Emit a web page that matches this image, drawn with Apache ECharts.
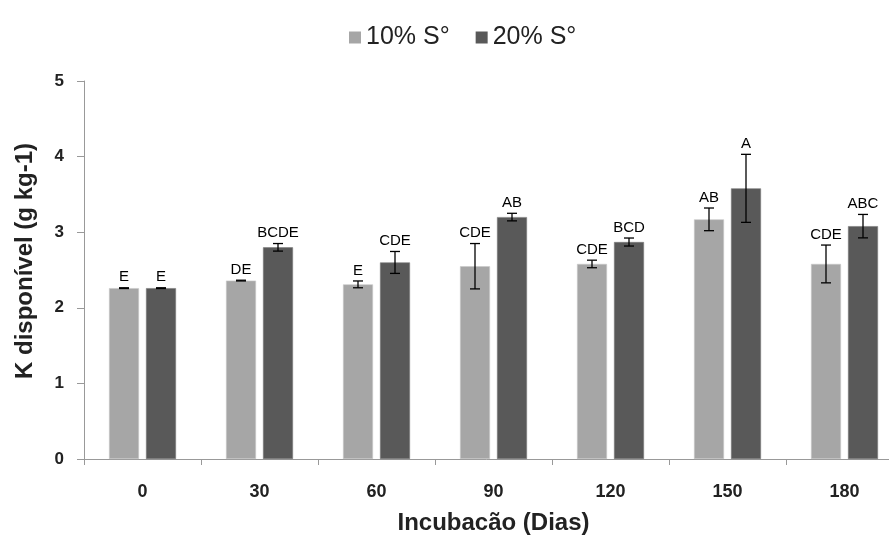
<!DOCTYPE html>
<html>
<head>
  <meta charset="utf-8">
  <style>
    html, body { margin: 0; padding: 0; width: 100%; height: 100%; overflow: hidden; background: #fff; }
  </style>
  <script src="https://cdn.jsdelivr.net/npm/echarts@6/dist/echarts.min.js"></script>
</head>
<body>
  <div id="container" style="width: 889px; height: 535px;"></div>
  <script>
    // dados
    const categories = ['0', '30', '60', '90', '120', '150', '180'];
    const s10 = [2.26, 2.36, 2.31, 2.55, 2.58, 3.17, 2.58];
    const s20 = [2.26, 2.80, 2.60, 3.20, 2.87, 3.58, 3.08];
    const err10 = [0.005, 0.005, 0.045, 0.30, 0.05, 0.15, 0.25];
    const err20 = [0.005, 0.05, 0.145, 0.05, 0.053, 0.45, 0.155];
    const lab10 = ['E', 'DE', 'E', 'CDE', 'CDE', 'AB', 'CDE'];
    const lab20 = ['E', 'BCDE', 'CDE', 'AB', 'BCD', 'A', 'ABC'];
    const yTicks = [0, 1, 2, 3, 4, 5];

    const BAR_W = 30, GAP = 7;
    const font = 'Liberation Sans, Arial, sans-serif';

    function errData(vals, errs, labs) {
      return vals.map((v, i) => [i, v - errs[i], v + errs[i], labs[i]]);
    }

    // barra de erro + letra acima
    function errRender(offset) {
      return function (params, api) {
        const x = api.coord([api.value(0), 0])[0] + offset;
        const lo = api.coord([api.value(0), api.value(1)])[1];
        const hi = api.coord([api.value(0), api.value(2)])[1];
        const cap = 5;
        const st = { stroke: '#000', lineWidth: 1.3 };
        return {
          type: 'group',
          children: [
            { type: 'line', shape: { x1: x, y1: lo, x2: x, y2: hi }, style: st },
            { type: 'line', shape: { x1: x - cap, y1: lo, x2: x + cap, y2: lo }, style: st },
            { type: 'line', shape: { x1: x - cap, y1: hi, x2: x + cap, y2: hi }, style: st },
            {
              type: 'text',
              style: {
                text: api.value(3), x: x, y: hi - 3,
                textAlign: 'center', textVerticalAlign: 'bottom',
                fill: '#000', font: '15px ' + font
              }
            }
          ]
        };
      };
    }

    const myChart = echarts.init(document.getElementById('container'), null, { renderer: 'canvas' });
    const off = (BAR_W + GAP) / 2;

    const option = {
      animation: false,
      color: ['#a6a6a6', '#595959'],
      legend: {
        data: ['10% S°', '20% S°'],
        left: 344,
        top: 20,
        icon: 'rect',
        itemWidth: 12,
        itemHeight: 12,
        itemGap: 26,
        itemStyle: { borderWidth: 0 },
        textStyle: { fontSize: 25, color: '#222', fontFamily: font }
      },
      grid: { left: 84, width: 819, top: 81, bottom: 76, containLabel: false, outerBoundsMode: 'none' },
      xAxis: {
        type: 'category',
        data: categories,
        name: 'Incubacão (Dias)',
        nameLocation: 'middle',
        nameGap: 52,
        nameTextStyle: { fontSize: 24, fontWeight: 'bold', color: '#222', fontFamily: font },
        axisLine: { lineStyle: { color: '#999' } },
        axisTick: { show: true, length: 6, lineStyle: { color: '#999' } },
        axisLabel: { margin: 24, fontSize: 18, fontWeight: 'bold', color: '#222', fontFamily: font }
      },
      yAxis: {
        type: 'value',
        min: yTicks[0],
        max: yTicks[yTicks.length - 1],
        interval: 1,
        name: 'K disponível (g kg-1)',
        nameLocation: 'middle',
        nameGap: 47,
        nameTextStyle: { fontSize: 24, fontWeight: 'bold', color: '#222', fontFamily: font, padding: [0, 0, 0, 18] },
        splitLine: { show: false },
        axisLine: { show: true, lineStyle: { color: '#999' } },
        axisTick: { show: true, length: 7, lineStyle: { color: '#999' } },
        axisLabel: { margin: 20, fontSize: 17, fontWeight: 'bold', color: '#222', fontFamily: font }
      },
      series: [
        {
          name: '10% S°', type: 'bar', data: s10, barWidth: BAR_W, barGap: (GAP / BAR_W * 100) + '%',
          itemStyle: { borderColor: '#c8c8c8', borderWidth: 0.6 }
        },
        {
          name: '20% S°', type: 'bar', data: s20, barWidth: BAR_W,
          itemStyle: { borderColor: '#7a7a7a', borderWidth: 0.6 }
        },
        {
          type: 'custom', renderItem: errRender(-off), data: errData(s10, err10, lab10),
          encode: { x: 0, y: [1, 2] }, z: 10
        },
        {
          type: 'custom', renderItem: errRender(off), data: errData(s20, err20, lab20),
          encode: { x: 0, y: [1, 2] }, z: 10
        }
      ]
    };
    myChart.setOption(option);
  </script>
</body>
</html>
